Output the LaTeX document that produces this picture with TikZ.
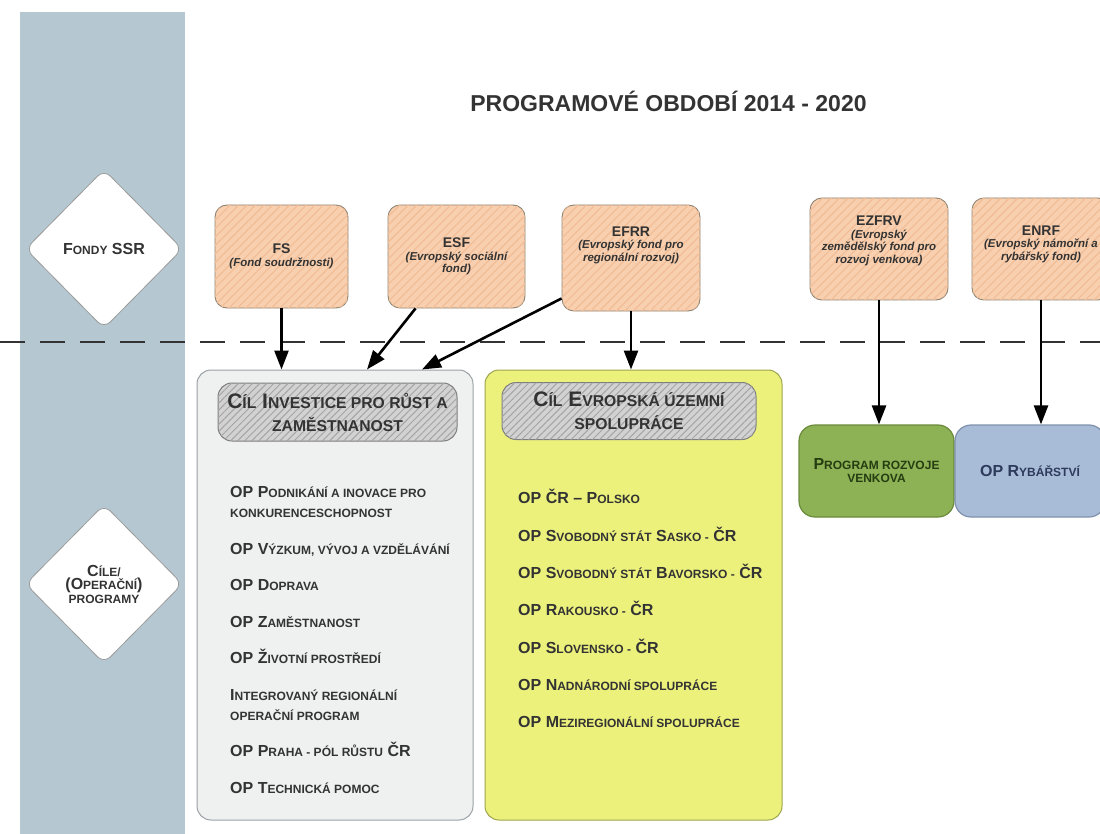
\documentclass[tikz,border=0pt]{standalone}
\usepackage{fontspec}
\setmainfont{Liberation Sans}
\usepackage{xcolor}
\usetikzlibrary{matrix,arrows.meta,positioning,shapes.geometric,patterns.meta}

\definecolor{band}{HTML}{B5C8D1}
\definecolor{txt}{HTML}{333333}
\definecolor{diaLine}{HTML}{9A9A9A}
\definecolor{fundFill}{HTML}{F9D0AF}
\definecolor{fundHatch}{HTML}{F1BE98}
\definecolor{fundLine}{HTML}{8E8271}
\definecolor{hdrFill}{HTML}{D2D2D2}
\definecolor{hdrHatch}{HTML}{A4A4A4}
\definecolor{hdrLine}{HTML}{7D7D7D}
\definecolor{investFill}{HTML}{EFF0F0}
\definecolor{investLine}{HTML}{9AA2A6}
\definecolor{etzFill}{HTML}{ECF17C}
\definecolor{etzLine}{HTML}{9EA54C}
\definecolor{prvFill}{HTML}{8DB255}
\definecolor{prvLine}{HTML}{6B8B3C}
\definecolor{prvTxt}{HTML}{263D12}
\definecolor{rybFill}{HTML}{A8BCD8}
\definecolor{rybLine}{HTML}{7F91AC}
\definecolor{rybTxt}{HTML}{2D3A5C}

\newcommand{\sml}[1]{{\fontsize{12}{20}\selectfont #1}}
\newcommand{\hsml}[1]{{\fontsize{15.7}{23}\selectfont #1}}
\newcommand{\fhd}[1]{{\fontsize{14}{15}\selectfont\upshape #1}}
\newcommand{\twol}[2]{\begin{tabular}[t]{@{}l@{}}#1\\#2\end{tabular}}

\begin{document}
\begin{tikzpicture}[x=1pt,y=-1pt,
every node/.style={inner sep=0pt},
caps/.style={font=\fontsize{16}{20}\selectfont\bfseries, text=txt},
dia/.style={diamond, draw=diaLine, fill=white, line width=0.8pt, rounded corners=9pt,
minimum width=157pt, minimum height=159pt, caps, font=\fontsize{16}{13.5}\selectfont\bfseries},
fund/.style={draw=fundLine, fill=fundFill, line width=0.9pt, rounded corners=12pt,
postaction={pattern={Lines[angle=45,distance=6pt,line width=1.3pt]}, pattern color=fundHatch}},
fundtxt/.style={align=center, text=txt, font=\fontsize{11.5}{12.5}\selectfont\bfseries\itshape},
goal/.style={line width=1pt, rounded corners=14pt},
hdr/.style={draw=hdrLine, fill=hdrFill, line width=1pt, rounded corners=14pt,
postaction={pattern={Lines[angle=45,distance=5pt,line width=1pt]}, pattern color=hdrHatch},
align=center, text=txt, font=\fontsize{21}{23}\selectfont\bfseries},
prog/.style={line width=1.2pt, rounded corners=16pt, align=center,
font=\fontsize{16}{13}\selectfont\bfseries},
twoline/.style={text depth=23pt},
arr/.style={line width=2.6pt, -{Triangle[length=19pt,width=14pt]}},
sep/.style={draw=txt, line width=1.4pt, dash pattern=on 25pt off 15pt}]

\useasboundingbox (0,0) rectangle (1100,834);
\fill[band] (20,12) rectangle (185,834);

% title
\node[anchor=base, text=txt, font=\fontsize{23}{25}\selectfont\bfseries] (ttl) at (668.5,111.7)
{PROGRAMOVÉ OBDOBÍ 2014 - 2020};

% left column
\node[dia] (dFond) at (104,249) {F\sml{ONDY} SSR};
\node[dia, align=center] (dCile) at (104,584) {C\sml{ÍLE/}\\(O\sml{PERAČNÍ})\\\sml{PROGRAMY}};

\coordinate (sepL) at (0,342);
\coordinate (sepR) at (1100,342);
\draw[sep] (sepL) -- (sepR);

% funds
\node[fund, minimum width=133pt, minimum height=103pt] (fs) at (281.5,256.5) {};
\node[fund, minimum width=137pt, minimum height=103pt] (esf) at (456.5,256.5) {};
\node[fund, minimum width=138pt, minimum height=106pt] (efrr) at (631,258) {};
\node[fund, minimum width=138pt, minimum height=102pt] (ezfrv) at (879,249) {};
\node[fund, minimum width=138pt, minimum height=102pt] (enrf) at (1041,249) {};
\node[fundtxt] (fsT) at (fs) {\fhd{FS}\\(Fond soudržnosti)};
\node[fundtxt] (esfT) at (esf) {\fhd{ESF}\\(Evropský sociální\\fond)};
\node[fundtxt, yshift=13pt] (efrrT) at (efrr) {\fhd{EFRR}\\(Evropský fond pro\\regionální rozvoj)};
\node[fundtxt, yshift=8pt] (ezfrvT) at (ezfrv) {\fhd{EZFRV}\\(Evropský\\zemědělský fond pro\\rozvoj venkova)};
\node[fundtxt, yshift=5pt] (enrfT) at (enrf) {\fhd{ENRF}\\(Evropský námořní a\\rybářský fond)};

% goals
\node[goal, fill=investFill, draw=investLine, minimum width=276pt, minimum height=450pt] (invest) at (335,595) {};
\node[goal, fill=etzFill, draw=etzLine, minimum width=297pt, minimum height=450pt] (etz) at (633.5,595) {};
\node[hdr, minimum width=239pt, minimum height=58pt] (hdrA) at (337.5,412)
{C\hsml{ÍL} I\hsml{NVESTICE PRO RŮST A}\\\hsml{ZAMĚSTNANOST}};
\node[hdr, minimum width=254pt, minimum height=57pt] (hdrB) at (629,411)
{C\hsml{ÍL} E\hsml{VROPSKÁ ÚZEMNÍ}\\\hsml{SPOLUPRÁCE}};

\matrix (opA) [matrix of nodes, anchor=north west, row sep=21.5pt,
nodes={caps, anchor=west, text height=12pt, text depth=3pt}] at (230,485.75)
{
|[twoline]| \twol{OP P\sml{ODNIKÁNÍ A INOVACE PRO}}{\sml{KONKURENCESCHOPNOST}}\\
OP V\sml{ÝZKUM, VÝVOJ A VZDĚLÁVÁNÍ}\\
OP D\sml{OPRAVA}\\
OP Z\sml{AMĚSTNANOST}\\
OP Ž\sml{IVOTNÍ PROSTŘEDÍ}\\
|[twoline]| \twol{I\sml{NTEGROVANÝ REGIONÁLNÍ}}{\sml{OPERAČNÍ PROGRAM}}\\
OP P\sml{RAHA - PÓL RŮSTU} ČR\\
OP T\sml{ECHNICKÁ POMOC}\\
};

\matrix (opB) [matrix of nodes, anchor=north west, row sep=22.3pt,
nodes={caps, anchor=west, text height=12pt, text depth=3pt}] at (518,491.75)
{
OP ČR – P\sml{OLSKO}\\
OP S\sml{VOBODNÝ STÁT} S\sml{ASKO -} ČR\\
OP S\sml{VOBODNÝ STÁT} B\sml{AVORSKO -} ČR\\
OP R\sml{AKOUSKO -} ČR\\
OP S\sml{LOVENSKO -} ČR\\
OP N\sml{ADNÁRODNÍ SPOLUPRÁCE}\\
OP M\sml{EZIREGIONÁLNÍ SPOLUPRÁCE}\\
};

% programs
\node[prog, fill=prvFill, draw=prvLine, text=prvTxt, minimum width=155pt, minimum height=92pt] (prv) at (876.5,471)
{P\sml{ROGRAM ROZVOJE}\\\sml{VENKOVA}};
\node[prog, fill=rybFill, draw=rybLine, text=rybTxt, minimum width=150pt, minimum height=92pt] (ryb) at (1030,471)
{OP R\sml{YBÁŘSTVÍ}};

% arrows
\draw[arr] (fs.south) -- (fs.south |- invest.north);
\draw[arr] ([xshift=-41pt]esf.south) -- ([xshift=32pt]invest.north);
\draw[arr] ([yshift=13pt]efrr.south west) -- ([xshift=87pt]invest.north);
\draw[arr] (efrr.south) -- (efrr.south |- etz.north);
\draw[arr] (ezfrv.south) -- (ezfrv.south |- prv.north);
\draw[arr] (enrf.south) -- (enrf.south |- ryb.north);
\end{tikzpicture}
\end{document}
